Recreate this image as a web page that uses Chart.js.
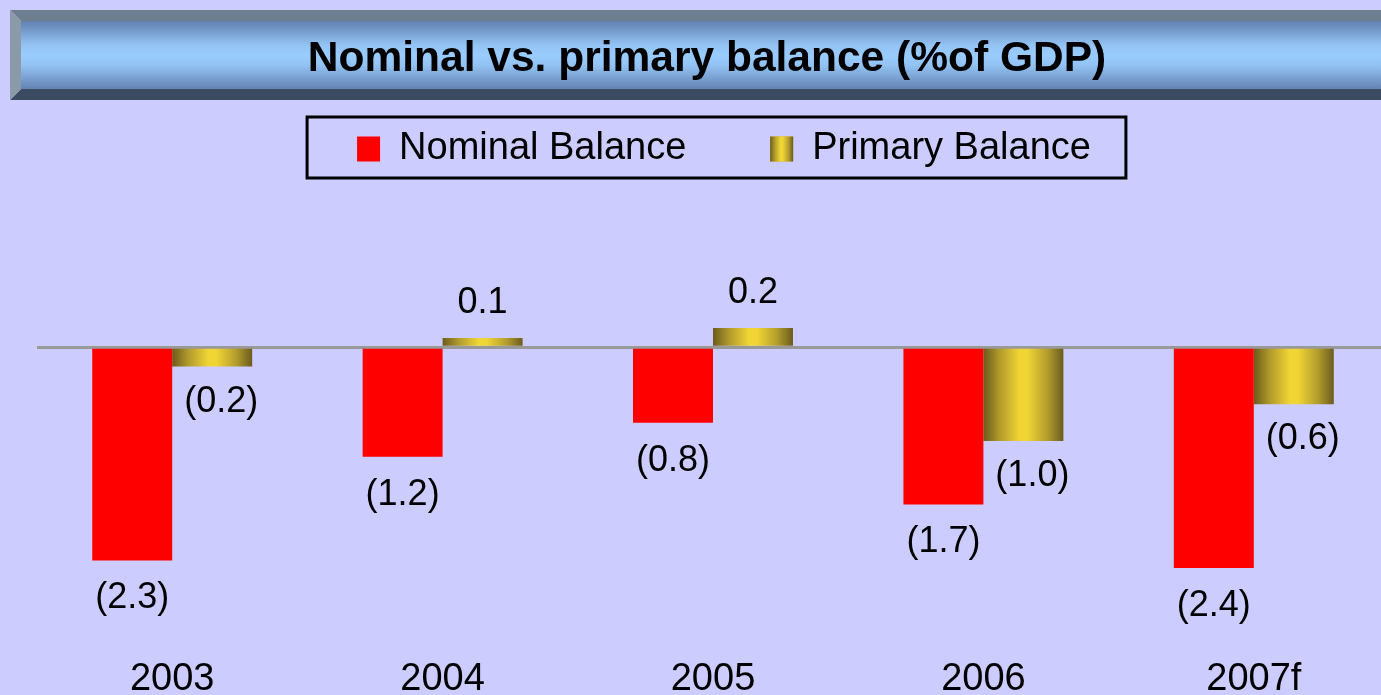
<!DOCTYPE html>
<html>
<head>
<meta charset="utf-8">
<script src="https://cdn.jsdelivr.net/npm/chart.js@4.4.1/dist/chart.umd.min.js"></script>
<style>
    body { margin: 0; background: #ccccff; overflow: hidden; }
    #wrap { width: 1381px; height: 695px; overflow: hidden; }
</style>
</head>
<body>
<div id="wrap"><canvas id="myChart" width="1389" height="695"></canvas></div>
<script>
const years = ["2003", "2004", "2005", "2006", "2007f"];
const nominalBalance = [-2.32, -1.19, -0.82, -1.71, -2.40];
const primaryBalance = [-0.21, 0.10, 0.21, -1.02, -0.62];

const FONT = "'Liberation Sans', Arial, sans-serif";

function fmt(v) {
    let s = Math.abs(v).toFixed(1);
    return v < 0 ? "(" + s + ")" : s;
}

function goldGradient(ctx, x0, x1) {
    let g = ctx.createLinearGradient(x0, 0, x1, 0);
    g.addColorStop(0, "#6b5b1c");
    g.addColorStop(0.2, "#b09a2c");
    g.addColorStop(0.45, "#f0d535");
    g.addColorStop(0.55, "#f0d535");
    g.addColorStop(0.8, "#b39d2d");
    g.addColorStop(1, "#6b5b1c");
    return g;
}

// title bar with bevel, drawn behind the title text
const titleBar = {
    id: "titleBar",
    beforeDraw(chart) {
        let ctx = chart.ctx;
        let l = 10, t = 10, r = chart.width, b = 100, bv = 11;
        ctx.save();
        let g = ctx.createLinearGradient(0, t + bv, 0, b - bv);
        g.addColorStop(0, "#6080b0");
        g.addColorStop(0.35, "#93c3f3");
        g.addColorStop(0.5, "#99ccff");
        g.addColorStop(0.65, "#93c3f3");
        g.addColorStop(1, "#6383b3");
        ctx.fillStyle = g;
        ctx.fillRect(l + bv, t + bv, r - l - bv, b - t - 2 * bv);
        ctx.fillStyle = "#6e7f8f";
        ctx.beginPath();
        ctx.moveTo(l, t); ctx.lineTo(r, t); ctx.lineTo(r, t + bv); ctx.lineTo(l + bv, t + bv);
        ctx.fill();
        ctx.fillStyle = "#3a4b62";
        ctx.beginPath();
        ctx.moveTo(l, b); ctx.lineTo(r, b); ctx.lineTo(r, b - bv); ctx.lineTo(l + bv, b - bv);
        ctx.fill();
        ctx.fillStyle = "#8a9aa8";
        ctx.beginPath();
        ctx.moveTo(l, t); ctx.lineTo(l + bv, t + bv); ctx.lineTo(l + bv, b - bv); ctx.lineTo(l, b);
        ctx.fill();
        ctx.restore();
    }
};

// nudge title a bit left and legend a bit right, like the original
const nudge = {
    id: "nudge",
    afterLayout(chart) {
        chart.titleBlock.left -= 6;
        chart.titleBlock.right -= 6;
        chart.legend.left += 11;
        chart.legend.right += 11;
    }
};

// gold bars get their own horizontal gradient
const goldBars = {
    id: "goldBars",
    beforeDatasetsDraw(chart) {
        let meta = chart.getDatasetMeta(1);
        meta.data.forEach(bar => {
            let half = bar.width / 2;
            bar.options.backgroundColor = goldGradient(chart.ctx, bar.x - half, bar.x + half);
        });
    }
};

// value labels under / over each bar
const valueLabels = {
    id: "valueLabels",
    afterDatasetsDraw(chart) {
        let ctx = chart.ctx;
        ctx.save();
        ctx.font = "36px " + FONT;
        ctx.fillStyle = "#000";
        ctx.textAlign = "center";
        ctx.textBaseline = "middle";
        chart.data.datasets.forEach((ds, di) => {
            chart.getDatasetMeta(di).data.forEach((bar, i) => {
                let v = ds.data[i];
                let x = bar.x + (di === 1 && v < 0 ? 9 : 0);
                let y = v < 0 ? bar.y + (di === 1 ? 35 : 38) : bar.y - 35;
                ctx.fillText(fmt(v), x, y);
            });
        });
        ctx.restore();
    }
};

// legend frame + gradient swatch
const legendFrame = {
    id: "legendFrame",
    afterDraw(chart) {
        let lg = chart.legend;
        let boxes = lg.legendHitBoxes;
        if (!boxes || boxes.length < 2) return;
        let ctx = chart.ctx;
        let first = boxes[0], last = boxes[boxes.length - 1];
        let mid = first.top + first.height / 2;
        ctx.save();
        ctx.strokeStyle = "#000";
        ctx.lineWidth = 3;
        ctx.strokeRect(first.left - 50, mid - 32, last.left + last.width + 35 - (first.left - 50), 61);
        let bw = lg.options.labels.boxWidth, bh = lg.options.labels.boxHeight;
        let y = last.top + Math.max((first.height - bh) / 2, 0);
        ctx.fillStyle = goldGradient(ctx, last.left, last.left + bw);
        ctx.fillRect(last.left, y, bw, bh);
        ctx.restore();
    }
};

let config = {
    type: "bar",
    data: {
        labels: years,
        datasets: [
            {
                label: "Nominal Balance",
                data: nominalBalance,
                backgroundColor: "#ff0000",
                borderWidth: 0
            },
            {
                label: "Primary Balance",
                data: primaryBalance,
                backgroundColor: () => "#d4b82c",
                borderWidth: 0
            }
        ]
    },
    options: {
        responsive: false,
        animation: false,
        events: [],
        categoryPercentage: 160 / 270.5,
        barPercentage: 1.0,
        layout: {
            padding: { left: 37, right: 0, top: 0, bottom: 0 }
        },
        plugins: {
            title: {
                display: true,
                text: "Nominal vs. primary balance (%of GDP)",
                color: "#000",
                font: { family: FONT, size: 42.5, weight: "bold", lineHeight: 1.2 },
                padding: { top: 33.5, bottom: -38.3 }
            },
            legend: {
                display: true,
                labels: {
                    color: "#000",
                    font: { family: FONT, size: 38 },
                    boxWidth: 23,
                    boxHeight: 25,
                    padding: 83.8
                }
            },
            tooltip: { enabled: false }
        },
        scales: {
            x: {
                grid: { display: false, drawTicks: false },
                border: { display: false },
                ticks: {
                    color: "#000",
                    padding: 3,
                    font: { family: FONT, size: 38, lineHeight: 1.2 }
                },
                afterFit: axis => { axis.height = 41; }
            },
            y: {
                min: -3.337,
                max: 1.842,
                ticks: { display: false, stepSize: 0.5 },
                border: { display: false },
                grid: {
                    drawTicks: false,
                    lineWidth: 3,
                    color: c => c.tick && c.tick.value === 0 ? "#999999" : "rgba(0,0,0,0)"
                }
            }
        }
    },
    plugins: [titleBar, nudge, goldBars, valueLabels, legendFrame]
};

let ctx = document.getElementById("myChart").getContext("2d");
let myChart = new Chart(ctx, config);
</script>
</body>
</html>
